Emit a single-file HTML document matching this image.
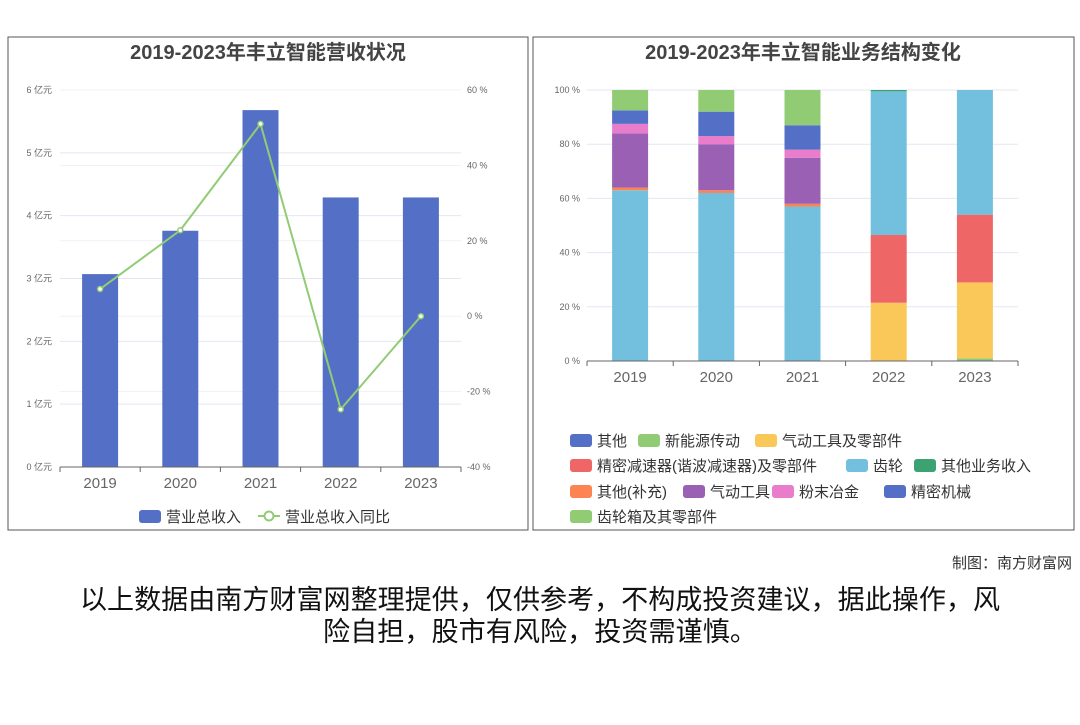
<!DOCTYPE html>
<html><head><meta charset="utf-8"><style>
body{margin:0;background:#fff;width:1080px;height:720px;overflow:hidden;font-family:"Liberation Sans","Noto Sans CJK SC",sans-serif}
svg text{font-family:"Liberation Sans","Noto Sans CJK SC",sans-serif}
</style></head><body>
<svg width="1080" height="720">
<rect x="8" y="37" width="520" height="493" fill="none" stroke="#555"/>
<rect x="533" y="37" width="541" height="493" fill="none" stroke="#555"/>
<text x="268" y="59" text-anchor="middle" font-size="20" font-weight="bold" fill="#444">2019-2023年丰立智能营收状况</text>
<text x="803" y="59" text-anchor="middle" font-size="20" font-weight="bold" fill="#444">2019-2023年丰立智能业务结构变化</text>
<g id="left"></g><g id="right"></g>
<g>
<rect x="139" y="510" width="22" height="13" rx="3" fill="#5470c6"/>
<text x="166" y="522" font-size="15" fill="#333">营业总收入</text>
<line x1="258" y1="516" x2="280" y2="516" stroke="#91cc75" stroke-width="2"/>
<circle cx="269" cy="516" r="4.5" fill="#fff" stroke="#91cc75" stroke-width="2"/>
<text x="285" y="522" font-size="15" fill="#333">营业总收入同比</text>
</g>
<g id="rlegend"></g>
<text x="1072" y="568" text-anchor="end" font-size="15" fill="#333">制图：南方财富网</text>
<text x="540" y="609" text-anchor="middle" font-size="27" textLength="920" lengthAdjust="spacingAndGlyphs" fill="#111">以上数据由南方财富网整理提供，仅供参考，不构成投资建议，据此操作，风</text>
<text x="540" y="641" text-anchor="middle" font-size="27" textLength="434" lengthAdjust="spacingAndGlyphs" fill="#111">险自担，股市有风险，投资需谨慎。</text>
</svg>
<script>
const years=['2019','2020','2021','2022','2023'];
const revenue=[3.07,3.76,5.68,4.29,4.29];
const growth=[7.2,22.8,51,-24.7,0];
const leftTicks=['0 亿元','1 亿元','2 亿元','3 亿元','4 亿元','5 亿元','6 亿元'];
const rightTicks=['-40 %','-20 %','0 %','20 %','40 %','60 %'];
const seriesNames=['其他','新能源传动','气动工具及零部件','精密减速器(谐波减速器)及零部件','齿轮','其他业务收入','其他(补充)','气动工具','粉末冶金','精密机械','齿轮箱及其零部件'];
const seriesColors=['#5470c6','#91cc75','#fac858','#ee6666','#73c0de','#3ba272','#fc8452','#9a60b4','#ea7ccc','#5470c6','#91cc75'];
const s0=[0,0,0,0,0.3];
const s1=[0,0,0,0,0.7];
const s2=[0,0,0,21.5,28];
const s3=[0,0,0,25,25];
const s4=[63,62,57,53,46];
const s5=[0,0,0,0.5,0];
const s6=[1,1,1,0,0];
const s7=[20,17,17,0,0];
const s8=[3.5,3,3,0,0];
const s9=[5,9,9,0,0];
const s10=[7.5,8,13,0,0];
const stackTicks=['0 %','20 %','40 %','60 %','80 %','100 %'];
const NS='http://www.w3.org/2000/svg';
function mk(p,t,a){const e=document.createElementNS(NS,t);for(const k in a)e.setAttribute(k,a[k]);p.appendChild(e);return e;}
const L=document.getElementById('left');
const lx0=60,lx1=461,ly0=467,ly1=90;
const lband=(lx1-lx0)/years.length;
const xL=i=>lx0+lband*(i+0.5);
const yL=v=>ly0-(v/6)*(ly0-ly1);
const yR=v=>ly0-((v+40)/100)*(ly0-ly1);
leftTicks.forEach((t,i)=>{const y=yL(i);
 const g=mk(L,'line',{x1:lx0,x2:lx1,y1:y,y2:y,stroke:'#e3e7f2'});
 
 const tx=mk(L,'text',{x:52,y:y+3,'text-anchor':'end','font-size':9,fill:'#666'});tx.textContent=t;
 });
rightTicks.forEach((t,i)=>{const y=yR(-40+i*20);
 const g=mk(L,'line',{x1:lx0,x2:lx1,y1:y,y2:y,stroke:'#eef1f7'});
 
 const tx=mk(L,'text',{x:467,y:y+3,'font-size':9,fill:'#666'});tx.textContent=t;
 });
revenue.forEach((v,i)=>{const r=mk(L,'rect',{x:xL(i)-18,y:yL(v),width:36,height:ly0-yL(v),fill:'#5470c6'});
 });
mk(L,'line',{x1:lx0,x2:lx1,y1:ly0,y2:ly0,stroke:'#666'});
years.forEach((y,i)=>{mk(L,'line',{x1:lx0+lband*i,x2:lx0+lband*i,y1:ly0,y2:ly0+5,stroke:'#666'});
 const tx=mk(L,'text',{x:xL(i),y:ly0+21,'text-anchor':'middle','font-size':15,fill:'#666'});tx.textContent=y;
 });
mk(L,'line',{x1:lx1,x2:lx1,y1:ly0,y2:ly0+5,stroke:'#666'});
const pl=mk(L,'polyline',{points:growth.map((v,i)=>xL(i)+','+yR(v)).join(' '),fill:'none',stroke:'#91cc75','stroke-width':2});

growth.forEach((v,i)=>{const c=mk(L,'circle',{cx:xL(i),cy:yR(v),r:2.5,fill:'#fff',stroke:'#91cc75','stroke-width':1.5});
 });
const R=document.getElementById('right');
const rx0=587,rx1=1018,ry0=361,ry1=90;
const rband=(rx1-rx0)/years.length;
const xS=i=>rx0+rband*(i+0.5);
const yS=v=>ry0-(v/100)*(ry0-ry1);
stackTicks.forEach((t,i)=>{const y=yS(i*20);
 const g=mk(R,'line',{x1:rx0,x2:rx1,y1:y,y2:y,stroke:'#e3e7f2'});
 
 const tx=mk(R,'text',{x:580,y:y+3,'text-anchor':'end','font-size':9,fill:'#666'});tx.textContent=t;
 });
const all=[s0,s1,s2,s3,s4,s5,s6,s7,s8,s9,s10];
years.forEach((yr,i)=>{let acc=0;all.forEach((s,k)=>{const v=s[i];if(v<=0)return;
 const r=mk(R,'rect',{x:xS(i)-18,y:yS(acc+v),width:36,height:yS(acc)-yS(acc+v),fill:seriesColors[k]});
 acc+=v;});});
mk(R,'line',{x1:rx0,x2:rx1,y1:ry0,y2:ry0,stroke:'#666'});
years.forEach((y,i)=>{mk(R,'line',{x1:rx0+rband*i,x2:rx0+rband*i,y1:ry0,y2:ry0+5,stroke:'#666'});
 const tx=mk(R,'text',{x:xS(i),y:ry0+21,'text-anchor':'middle','font-size':15,fill:'#666'});tx.textContent=y;
 });
mk(R,'line',{x1:rx1,x2:rx1,y1:ry0,y2:ry0+5,stroke:'#666'});
const RL=document.getElementById('rlegend');
const legPos=[[570,440],[638,440],[755,440],[570,465],[846,465],[914,465],[570,491],[683,491],[772,491],[884,491],[570,516]];
seriesNames.forEach((n,k)=>{const [x,y]=legPos[k];
 const m=mk(RL,'rect',{x:x,y:y-6,width:22,height:13,rx:3,fill:seriesColors[k]});
 
 const t=mk(RL,'text',{x:x+27,y:y+6,'font-size':15,fill:'#333'});t.textContent=n;
 });
</script>
</body></html>
